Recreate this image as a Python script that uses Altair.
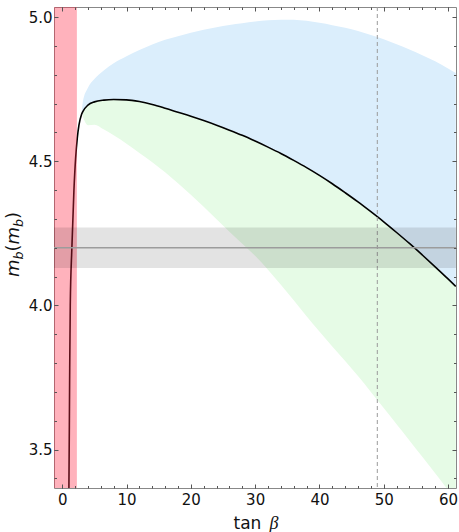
import altair as alt
import pandas as pd

# ---- data ----
T = [0.95, 1.04, 1.15, 1.25, 1.5, 1.82, 2.08, 2.34, 2.6, 3.0, 3.2, 4.0, 5.0, 6.5, 8.0,
     10, 12, 14, 16, 18, 20, 22, 24, 26, 28, 30, 32, 34, 36, 38, 40, 42, 44, 46, 48,
     50, 52, 54, 56, 58, 60, 61.2]
CURVE = [3.30, 3.37, 3.74, 4.00, 4.20, 4.40, 4.51, 4.58, 4.625, 4.662, 4.672, 4.695, 4.706,
         4.712, 4.714, 4.713, 4.707, 4.697, 4.684, 4.670, 4.656, 4.641, 4.625, 4.608, 4.590,
         4.570, 4.549, 4.527, 4.503, 4.478, 4.451, 4.422, 4.391, 4.359, 4.325, 4.290, 4.253,
         4.215, 4.175, 4.134, 4.092, 4.066]
UPPER = [None, None, None, None, None, None, None, None, None, 4.664, 4.705, 4.755, 4.785,
         4.816, 4.840, 4.864, 4.886, 4.905, 4.921, 4.934, 4.946, 4.956, 4.965, 4.973, 4.979,
         4.985, 4.989, 4.991, 4.991, 4.987, 4.980, 4.972, 4.963, 4.952, 4.938, 4.923, 4.906,
         4.888, 4.868, 4.847, 4.822, 4.806]
LOWER = [None, None, None, None, None, None, None, None, None, None, 4.655, 4.625, 4.627,
         4.610, 4.590, 4.561, 4.529, 4.497, 4.462, 4.424, 4.384, 4.342, 4.299, 4.256, 4.214,
         4.172, 4.124, 4.072, 4.018, 3.963, 3.910, 3.858, 3.807, 3.755, 3.700, 3.644, 3.588,
         3.532, 3.475, 3.418, 3.360, 3.326]

RED_BAND = [-1.28, 2.28]
GRAY_BAND = [4.13, 4.27]
GRAY_LINE = [4.20]
DASHED_X = [49.0]

X_DOMAIN = [-1.28, 61.24]
Y_DOMAIN = [3.367, 5.035]
X_MAJOR = [0, 10, 20, 30, 40, 50, 60]
X_MINOR = [0, 2, 4, 6, 8, 10, 12, 14, 16, 18, 20, 22, 24, 26, 28, 30, 32, 34, 36, 38, 40,
           42, 44, 46, 48, 50, 52, 54, 56, 58, 60]
Y_MAJOR = [3.5, 4.0, 4.5, 5.0]
Y_MINOR = [3.4, 3.5, 3.6, 3.7, 3.8, 3.9, 4.0, 4.1, 4.2, 4.3, 4.4, 4.5, 4.6, 4.7, 4.8, 4.9, 5.0]

W, H = 402, 481

df = pd.DataFrame({"t": T, "mid": CURVE, "up": UPPER, "lo": LOWER})
red_df = pd.DataFrame({"a": [RED_BAND[0]], "b": [RED_BAND[1]]})
gray_df = pd.DataFrame({"a": [GRAY_BAND[0]], "b": [GRAY_BAND[1]]})
line_df = pd.DataFrame({"y": GRAY_LINE})
dash_df = pd.DataFrame({"x": DASHED_X})
one = alt.Data(values=[{}])

xs = alt.Scale(domain=X_DOMAIN, nice=False, zero=False)
ys = alt.Scale(domain=Y_DOMAIN, nice=False, zero=False)


def ax(orient, values, size, labels=False, pad=2):
    return alt.Axis(orient=orient, values=values, tickSize=size, offset=-size,
                    domain=False, grid=False, labels=labels, title=None,
                    tickColor="#555555", tickWidth=1, zindex=1,
                    labelFont="DejaVu Sans", labelFontSize=15, labelColor="#111111",
                    labelPadding=pad, labelFlush=False, labelOverlap=False)


blue = alt.Chart(df).mark_area(clip=True, color="#dbeefc", opacity=1,
                               interpolate="monotone").encode(
    x=alt.X("t:Q", scale=xs, axis=ax("bottom", X_MINOR, 2.5)),
    y=alt.Y("up:Q", scale=ys, axis=ax("left", Y_MINOR, 2.5)),
    y2="mid:Q",
)
green = alt.Chart(df).mark_area(clip=True, color="#e6fbe6", opacity=1,
                                interpolate="monotone").encode(
    x=alt.X("t:Q", scale=xs, axis=ax("top", X_MAJOR, 4)),
    y=alt.Y("lo:Q", scale=ys, axis=ax("right", Y_MAJOR, 4)),
    y2="mid:Q",
)
curve = alt.Chart(df).mark_line(clip=True, color="black", strokeWidth=1.6,
                                interpolate="monotone").encode(
    x=alt.X("t:Q", scale=xs, axis=ax("bottom", X_MAJOR, 4, labels=True, pad=4.5)),
    y=alt.Y("mid:Q", scale=ys, axis=ax("left", Y_MAJOR, 4, labels=True, pad=2)),
    order="t:Q",
)
dashed = alt.Chart(dash_df).mark_rule(color="#9a9a9a", strokeWidth=1, strokeDash=[4, 3]).encode(
    x=alt.X("x:Q", scale=xs, axis=None),
)
red = alt.Chart(red_df).mark_rect(clip=True, color="#ff2a45", opacity=0.36).encode(
    x=alt.X("a:Q", scale=xs, axis=ax("top", X_MINOR, 2.5)),
    x2="b:Q",
    y=alt.value(0),
    y2=alt.value(H),
)
gray = alt.Chart(gray_df).mark_rect(color="black", opacity=0.11).encode(
    y=alt.Y("a:Q", scale=ys, axis=ax("right", Y_MINOR, 2.5)),
    y2="b:Q",
    x=alt.value(0),
    x2=alt.value(W),
)
gline = alt.Chart(line_df).mark_rule(color="#9c9c9c", strokeWidth=1.5).encode(
    y=alt.Y("y:Q", scale=ys, axis=None),
)

# axis titles as text pieces (italic m with subscript b)
pieces = [
    ("m", 18, "italic", -35.5, 270),
    ("b", 12.6, "italic", -31.5, 252.5),
    ("(", 18, "normal", -35.5, 244.5),
    ("m", 18, "italic", -35.5, 237.5),
    ("b", 12.6, "italic", -31.5, 220),
    (")", 18, "normal", -35.5, 212),
]
texts = []
for s, fs, st, px, py in pieces:
    texts.append(alt.Chart(one).mark_text(text=s, angle=270, align="left", baseline="alphabetic",
                                          font="DejaVu Sans", fontSize=fs, fontStyle=st,
                                          color="#111111").encode(x=alt.value(px), y=alt.value(py)))
texts.append(alt.Chart(one).mark_text(text="tan", align="left", baseline="alphabetic",
                                      font="DejaVu Sans", fontSize=17, color="#111111")
             .encode(x=alt.value(179.5), y=alt.value(522)))
texts.append(alt.Chart(one).mark_text(text="β", align="left", baseline="alphabetic",
                                      font="Liberation Serif", fontStyle="italic", fontSize=18,
                                      color="#111111")
             .encode(x=alt.value(215.5), y=alt.value(522)))

chart = alt.layer(blue, green, curve, dashed, red, gray, gline, *texts).resolve_axis(
    x="independent", y="independent"
).properties(
    width=W, height=H,
    padding={"left": 54, "top": 7, "right": 3, "bottom": 44},
    autosize=alt.AutoSizeParams(type="none"),
    background="white",
).configure_view(stroke="#888888", strokeWidth=1)

chart.save("out.html", embed_options={"renderer": "svg", "actions": False})
